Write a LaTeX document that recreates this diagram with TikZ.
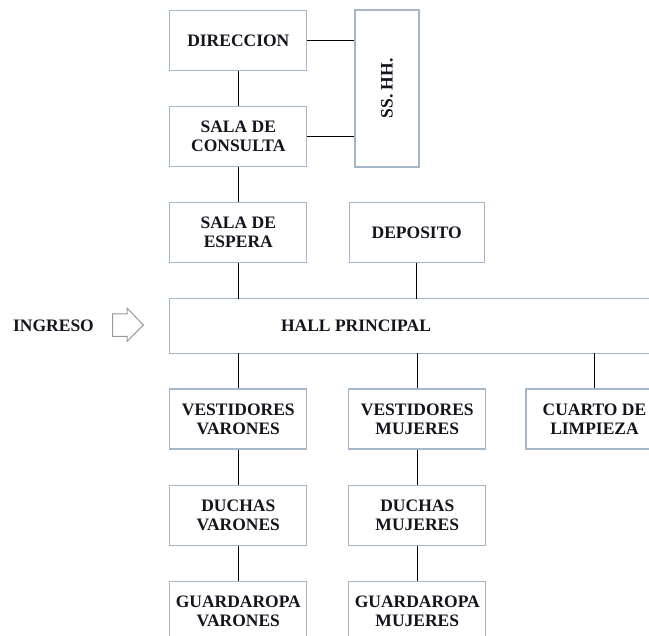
\documentclass[tikz,border=0pt]{standalone}
\usepackage{fontspec}
\setmainfont{Liberation Serif}
\begin{document}
\begin{tikzpicture}[x=1pt,y=-1pt,
  boxline/.style={draw=boxc, line width=1.2pt},
  roombox/.style={boxline, rectangle, minimum width=137pt, minimum height=60pt, inner sep=0pt, align=center, font=\bfseries\fontsize{17.5}{19}\selectfont, text=txtc},
  link/.style={draw=black, line width=1.1pt},
  plain/.style={inner sep=0pt, font=\bfseries\fontsize{17.5}{19}\selectfont, text=txtc}
]
\definecolor{boxc}{RGB}{165,182,200}
\definecolor{txtc}{RGB}{20,20,30}
\clip (0,0) rectangle (649,636);
\fill[white] (0,0) rectangle (649,636);

\node[roombox] (dir) at (238.3,40.3) {DIRECCION};
\node[roombox] (cons) at (238.3,136.7) {SALA DE\\CONSULTA};
\node[roombox, minimum width=64pt, minimum height=157pt] (sshh) at (387,88.5) {};
\node[plain, rotate=90] (sshhtxt) at (sshh.center) {SS. HH.};
\node[roombox] (esp) at (238.3,232.5) {SALA DE\\ESPERA};
\node[roombox, minimum width=135pt] (dep) at (416.7,232.5) {DEPOSITO};

\node[plain, minimum width=372pt, minimum height=54.3pt] (hall) at (356,326) {HALL PRINCIPAL};
\draw[boxline] (hall.south west) rectangle ([xshift=200pt]hall.north east);

\node[plain] (ing) at (53.5,326) {INGRESO};
\draw[draw=gray!80, line width=1pt, fill=white]
  (112.7,314) -- (127,314) -- (127,308) -- (143.3,325) -- (127,341.5) -- (127,336.5) -- (112.7,336.5) -- cycle;

\node[roombox] (vv) at (238.3,419) {VESTIDORES\\VARONES};
\node[roombox] (vm) at (417.3,419) {VESTIDORES\\MUJERES};
\node[roombox] (cl) at (594.5,419) {CUARTO DE\\LIMPIEZA};
\node[roombox] (dv) at (238.3,515.3) {DUCHAS\\VARONES};
\node[roombox] (dm) at (417.3,515.3) {DUCHAS\\MUJERES};
\node[roombox] (gv) at (238.3,611.7) {GUARDAROPA\\VARONES};
\node[roombox] (gm) at (417.3,611.7) {GUARDAROPA\\MUJERES};

\draw[link] (dir.south) -- (cons.north);
\draw[link] (dir.east) -- (dir.east -| sshh.west);
\draw[link] (cons.east) -- (cons.east -| sshh.west);
\draw[link] (cons.south) -- (esp.north);
\draw[link] (esp.south) -- (esp.south |- hall.north);
\draw[link] (dep.south) -- (dep.south |- hall.north);
\draw[link] (vv.north |- hall.south) -- (vv.north);
\draw[link] (vm.north |- hall.south) -- (vm.north);
\draw[link] (cl.north |- hall.south) -- (cl.north);
\draw[link] (vv.south) -- (dv.north);
\draw[link] (vm.south) -- (dm.north);
\draw[link] (dv.south) -- (gv.north);
\draw[link] (dm.south) -- (gm.north);
\end{tikzpicture}
\end{document}
